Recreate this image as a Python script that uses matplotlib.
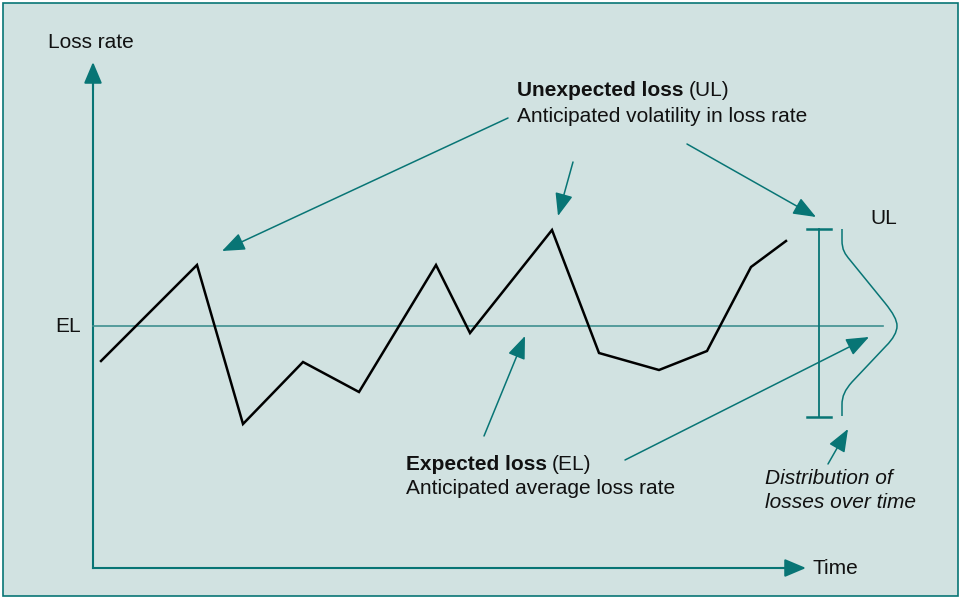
import matplotlib
matplotlib.use("Agg")
import matplotlib.pyplot as plt
from matplotlib.patches import Rectangle, PathPatch
from matplotlib.path import Path

# pixel-space layout of the diagram (y grows downward)
time_x = [101, 197, 243, 303, 359, 436, 470, 552, 599, 659, 707, 751, 786]
loss_y = [361, 265, 424, 362, 392, 265, 333, 230, 353, 370, 351, 267, 241]

el_level = 326
ul_top, ul_bottom = 229, 417

# hand-traced bell shape of the loss distribution (bezier vertices)
dist_verts = [(842, 229), (842, 240),
              (842, 250), (845, 254), (850, 260),
              (885, 303),
              (893, 313), (897, 320), (897, 326),
              (897, 332), (893, 339), (886, 346),
              (852, 382),
              (845, 390), (842, 396), (842, 405),
              (842, 416)]
dist_codes = [Path.MOVETO, Path.LINETO,
              Path.CURVE4, Path.CURVE4, Path.CURVE4,
              Path.LINETO,
              Path.CURVE4, Path.CURVE4, Path.CURVE4,
              Path.CURVE4, Path.CURVE4, Path.CURVE4,
              Path.LINETO,
              Path.CURVE4, Path.CURVE4, Path.CURVE4,
              Path.LINETO]

BG = "#d1e2e1"
TEAL = "#087575"
EL_TEAL = "#3f9090"
INK = "#111111"

plt.rcParams["font.family"] = ["Liberation Sans", "DejaVu Sans"]

fig = plt.figure(figsize=(9.62, 5.98), dpi=100, facecolor="white")
ax = fig.add_axes([0, 0, 1, 1])
ax.set_xlim(0, 962)
ax.set_ylim(598, 0)
ax.axis("off")

ax.add_patch(Rectangle((3, 3), 955, 593, facecolor=BG, edgecolor=TEAL, lw=1.2, zorder=0))


def arrow(x0, y0, x1, y1, lw=1.1, scale=10, hl=1.4, hw=0.55):
    ax.annotate("", xy=(x1, y1), xytext=(x0, y0),
                arrowprops=dict(arrowstyle=f"-|>,head_length={hl},head_width={hw}",
                                color=TEAL, lw=lw, mutation_scale=scale,
                                shrinkA=0, shrinkB=0))


# axes
ax.plot([93, 795], [568, 568], color=TEAL, lw=1.5)
ax.plot([93, 93], [568, 75], color=TEAL, lw=1.5)
arrow(93, 90, 93, 62, lw=1.5, hl=1.3, hw=0.55)
arrow(780, 568, 806, 568, lw=1.5, hl=1.3, hw=0.55)

# expected loss level
ax.plot([93, 883], [el_level, el_level], color=EL_TEAL, lw=1.2)

# loss rate series
ax.plot(time_x, loss_y, color="black", lw=1.8, solid_joinstyle="miter")

# unexpected loss range
ax.plot([819, 819], [ul_top, ul_bottom], color=TEAL, lw=1.3)
ax.plot([807, 831], [ul_top, ul_top], color=TEAL, lw=1.8)
ax.plot([807, 831], [ul_bottom, ul_bottom], color=TEAL, lw=1.8)
ax.add_patch(PathPatch(Path(dist_verts, dist_codes), facecolor="none",
                       edgecolor=TEAL, lw=1.1))

# callout arrows
arrow(508, 118, 222, 251)
arrow(573, 162, 558, 216)
arrow(687, 144, 816, 217)
arrow(484, 436, 525, 336)
arrow(625, 460, 869, 337)
arrow(828, 464, 848, 429)

fs = 15
txt = dict(fontsize=fs, color=INK, va="center", ha="left")
ax.text(48, 43, "Loss rate", **txt)
ax.text(55, 326, "EL", **txt)
ax.text(870, 219, "UL", **txt)
ax.text(813, 568, "Time", **txt)
ax.text(765, 479, "Distribution of", style="italic", **txt)
ax.text(765, 503, "losses over time", style="italic", **txt)

fig.canvas.draw()
renderer = fig.canvas.get_renderer()


def bold_then_plain(x, y, bold, plain):
    t = ax.text(x, y, bold, fontweight="bold", **txt)
    bb = t.get_window_extent(renderer)
    x_end = ax.transData.inverted().transform((bb.x1, bb.y0))[0]
    ax.text(x_end + 5, y, plain, **txt)


bold_then_plain(517, 91, "Unexpected loss", "(UL)")
ax.text(517, 116, "Anticipated volatility in loss rate", **txt)
bold_then_plain(406, 464, "Expected loss", "(EL)")
ax.text(406, 488, "Anticipated average loss rate", **txt)

fig.savefig("out.png", dpi=100, facecolor="white")
